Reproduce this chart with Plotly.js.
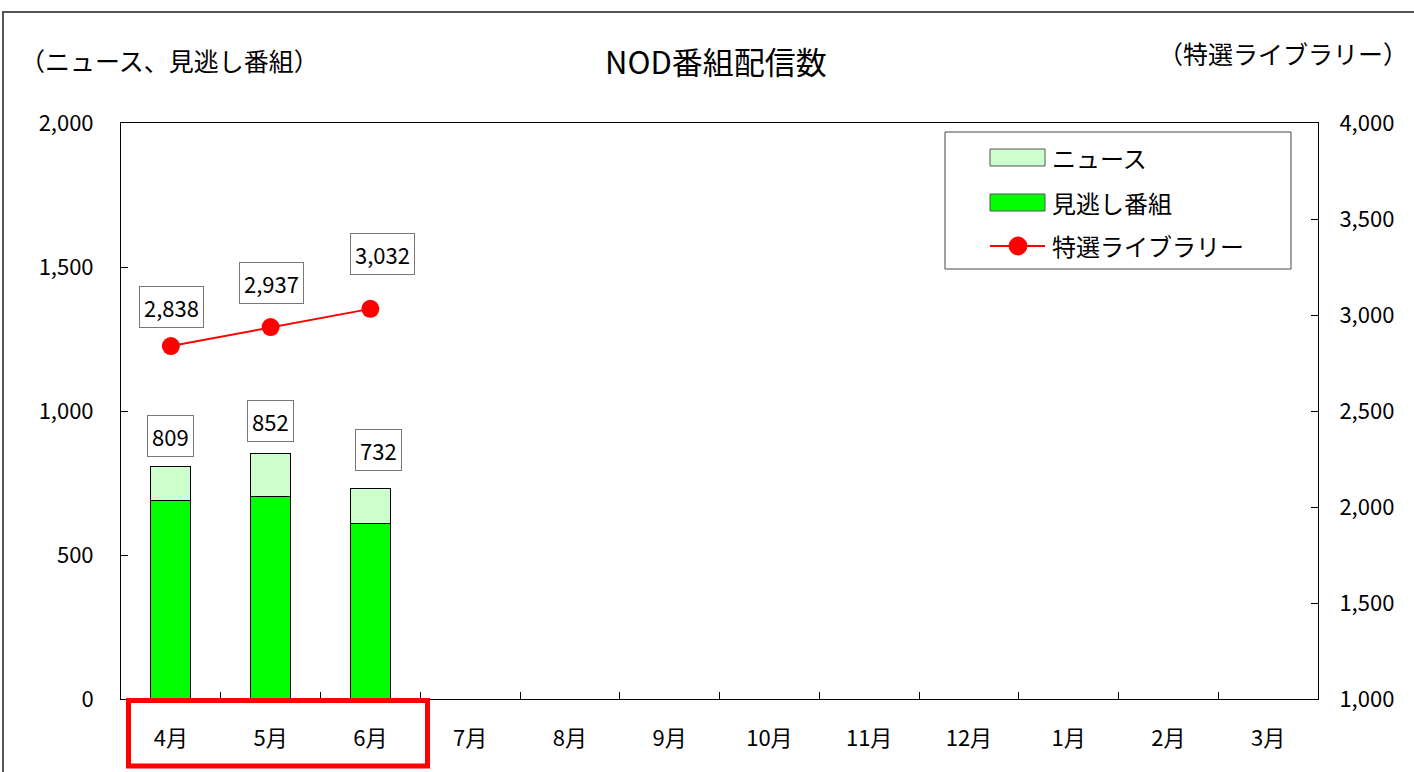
<!DOCTYPE html>
<html>
<head>
<meta charset="utf-8">
<script src="https://cdn.plot.ly/plotly-3.0.1.min.js"></script>
<style>html,body{margin:0;padding:0;background:#fff;}#chart{width:1414px;height:772px;}</style>
</head>
<body>
<div id="chart"></div>
<script>
const months = ['4月','5月','6月','7月','8月','9月','10月','11月','12月','1月','2月','3月'];
const dataMonths = ['4月','5月','6月'];
const minogashi = [688, 702, 610];
const news = [121, 150, 122];
const barTotals = [809, 852, 732];
const tokusen = [2838, 2937, 3032];
const seriesNames = ['ニュース', '見逃し番組', '特選ライブラリー'];
const seriesColors = ['#ccffcc', '#00ff00', '#ff0000'];

// label box offsets (pixels) as placed in the original
const barLabelShift = [[0,30],[0,33],[8,38]];
const lineLabelShift = [[1,39],[1,44],[12,55]];

const FONT = '"Noto Sans CJK JP", "Noto Sans", sans-serif';

const traces = [
  {type:'bar', name:seriesNames[1], x:dataMonths, y:minogashi, marker:{color:seriesColors[1], line:{color:'#000', width:1}}, hoverinfo:'skip'},
  {type:'bar', name:seriesNames[0], x:dataMonths, y:news, marker:{color:seriesColors[0], line:{color:'#000', width:1}}, hoverinfo:'skip'},
  {type:'scatter', mode:'lines+markers', name:seriesNames[2], x:dataMonths, y:tokusen, yaxis:'y2',
   line:{color:seriesColors[2], width:2}, marker:{color:seriesColors[2], size:18}, hoverinfo:'skip'}
];

const px = v => (v-121)/1197;
const py = v => (699-v)/576;

const annotations = [];
dataMonths.forEach((m,i)=>{
  annotations.push({x:m, y:barTotals[i], xref:'x', yref:'y', text:barTotals[i].toLocaleString('en-US'), showarrow:false,
    xshift:barLabelShift[i][0], yshift:barLabelShift[i][1],
    font:{family:FONT, size:22, color:'#000'}, bgcolor:'#fff', bordercolor:'#777', borderwidth:1, borderpad:4});
  annotations.push({x:m, y:tokusen[i], xref:'x', yref:'y2', text:tokusen[i].toLocaleString('en-US'), showarrow:false,
    xshift:lineLabelShift[i][0], yshift:lineLabelShift[i][1],
    font:{family:FONT, size:22, color:'#000'}, bgcolor:'#fff', bordercolor:'#777', borderwidth:1, borderpad:4});
});
annotations.push({xref:'paper', yref:'paper', x:px(716), y:py(60), text:'NOD番組配信数', showarrow:false,
  font:{family:FONT, size:31, color:'#000'}, xanchor:'center', yanchor:'middle'});
annotations.push({xref:'paper', yref:'paper', x:px(18), y:py(60), text:'（ニュース、見逃し番組）', showarrow:false,
  font:{family:FONT, size:25, color:'#000'}, xanchor:'left', yanchor:'middle'});
annotations.push({xref:'paper', yref:'paper', x:px(1410), y:py(53), text:'（特選ライブラリー）', showarrow:false,
  font:{family:FONT, size:25, color:'#000'}, xanchor:'right', yanchor:'middle'});

// custom legend
const legRows = [157, 202, 246];
seriesNames.forEach((n,i)=>{
  annotations.push({xref:'paper', yref:'paper', x:px(1050), y:py(legRows[i]), text:n, showarrow:false,
    font:{family:FONT, size:24, color:'#000'}, xanchor:'left', yanchor:'middle'});
});

const shapes = [
  {type:'rect', xref:'paper', yref:'paper', x0:px(3), x1:px(1420), y0:py(780), y1:py(12), line:{color:'#555', width:2}, fillcolor:'rgba(0,0,0,0)'},
  {type:'rect', xref:'paper', yref:'paper', x0:px(128.5), x1:px(427.5), y0:py(766), y1:py(700.5), line:{color:'#ff0000', width:5}, fillcolor:'rgba(0,0,0,0)'},
  {type:'rect', xref:'paper', yref:'paper', x0:px(945), x1:px(1291), y0:py(269), y1:py(132), line:{color:'#444', width:1}, fillcolor:'#fff', layer:'above'},
  {type:'rect', xref:'paper', yref:'paper', x0:px(990), x1:px(1045), y0:py(166), y1:py(149), line:{color:'#555', width:1}, fillcolor:seriesColors[0], layer:'above'},
  {type:'rect', xref:'paper', yref:'paper', x0:px(990), x1:px(1045), y0:py(211), y1:py(194), line:{color:'#555', width:1}, fillcolor:seriesColors[1], layer:'above'},
  {type:'line', xref:'paper', yref:'paper', x0:px(990), x1:px(1045), y0:py(246), y1:py(246), line:{color:seriesColors[2], width:2}, layer:'above'},
  {type:'circle', xref:'paper', yref:'paper', xsizemode:'pixel', ysizemode:'pixel', xanchor:px(1018), yanchor:py(246),
   x0:-9, x1:9, y0:-9, y1:9, line:{color:seriesColors[2], width:1}, fillcolor:seriesColors[2], layer:'above'}
];

const layout = {
  width:1414, height:772,
  margin:{l:121, r:96, t:123, b:73},
  paper_bgcolor:'#fff', plot_bgcolor:'#fff',
  barmode:'stack', bargap:0.6,
  font:{family:FONT, size:20, color:'#000'},
  showlegend:false,
  xaxis:{type:'category', categoryorder:'array', categoryarray:months, range:[-0.5, 11.5],
    showline:true, linecolor:'#000', linewidth:1, mirror:true, ticks:'inside', ticklen:7, tickcolor:'#000',
    tickson:'boundaries', showgrid:false, zeroline:false, tickfont:{family:FONT, size:22}, ticklabelstandoff:20, fixedrange:true},
  yaxis:{range:[0,2000], tickvals:[0,500,1000,1500,2000], ticktext:['0','500','1,000','1,500','2,000'],
    showline:true, linecolor:'#000', linewidth:1, ticks:'inside', ticklen:7, tickcolor:'#000',
    showgrid:false, zeroline:false, tickfont:{family:FONT, size:22}, ticklabelstandoff:22},
  yaxis2:{overlaying:'y', side:'right', range:[1000,4000], tickvals:[1000,1500,2000,2500,3000,3500,4000],
    ticktext:['1,000','1,500','2,000','2,500','3,000','3,500','4,000'],
    showline:true, linecolor:'#000', linewidth:1, ticks:'inside', ticklen:7, tickcolor:'#000',
    showgrid:false, zeroline:false, tickfont:{family:FONT, size:22}, ticklabelstandoff:16},
  annotations:annotations,
  shapes:shapes
};

Plotly.newPlot('chart', traces, layout, {displayModeBar:false, staticPlot:true});
</script>
</body>
</html>
